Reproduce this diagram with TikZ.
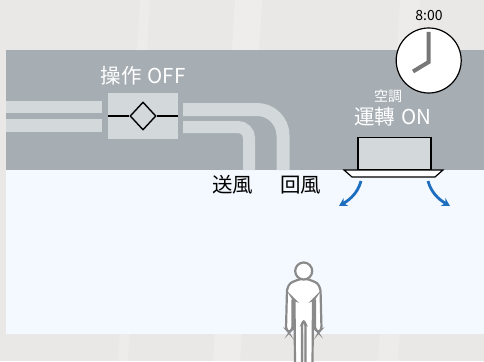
\documentclass[tikz,border=0pt]{standalone}
\usepackage{fontspec}
\newfontfamily\jp{Noto Sans CJK JP}
\usetikzlibrary{arrows.meta,shapes.geometric}
\definecolor{wallbg}{HTML}{E9E8E6}
\definecolor{ceiling}{HTML}{A6ADB3}
\definecolor{roomair}{HTML}{F3F9FE}
\definecolor{ductgray}{HTML}{D3D8DB}
\definecolor{flowblue}{HTML}{1E6EBF}
\definecolor{figgray}{HTML}{8A8A8A}
\definecolor{handgray}{HTML}{777777}
\tikzset{
  lbl/.style={inner sep=0pt, font=\jp\fontsize{20.5}{20.5}\selectfont},
  whitelbl/.style={lbl, text=white},
  blacklbl/.style={lbl, text=black},
  duct/.style={draw=ductgray, line cap=butt},
  flow/.style={draw=flowblue, line width=2.8pt, -{Stealth[length=8pt,width=9pt]}},
  hand/.style={draw=handgray, line width=4pt, line cap=butt, line join=miter},
}
\begin{document}
\begin{tikzpicture}[x=1pt,y=-1pt]
\useasboundingbox (0,0) rectangle (484,361);
% backdrop with faint slanted sheen
\fill[wallbg] (0,0) rectangle (484,361);
\fill[white,opacity=0.25] (235,0) -- (262,0) -- (240,361) -- (213,361) -- cycle;
\fill[white,opacity=0.2] (140,0) -- (150,0) -- (128,361) -- (118,361) -- cycle;
\fill[white,opacity=0.2] (400,0) -- (420,0) -- (398,361) -- (378,361) -- cycle;
% ceiling void and room
\fill[ceiling] (6,50) rectangle (484,170);
\fill[roomair] (6,170) rectangle (484,334);
% ducts
\draw[duct, line width=12pt] (6,107) -- (102,107);
\draw[duct, line width=13pt] (6,125.5) -- (102,125.5);
\draw[duct, line width=13pt, rounded corners=26pt] (183,109.5) -| (283,170);
\draw[duct, line width=12pt, rounded corners=11pt] (183,127) -| (249,170);
% heat exchanger unit
\node[fill=ductgray, minimum width=70pt, minimum height=46pt, inner sep=0pt] (erv) at (143,116) {};
\node[draw=black, line width=1.4pt, diamond, fill=ductgray, minimum width=26pt, minimum height=28pt, inner sep=0pt] (core) at (143,116) {};
\draw[black, line width=1.4pt] (erv.west) -- (core.west);
\draw[black, line width=1.4pt] (core.east) -- (erv.east);
% labels
\node[whitelbl] (erv-state) at (143,75.5) {操作\hspace{6pt}OFF};
\node[whitelbl, font=\jp\fontsize{14}{14}\selectfont] (ac-name) at (388,96) {空調};
\node[whitelbl] (ac-state) at (393,117) {運轉\hspace{6pt}ON};
\node[blacklbl] (supply) at (232.5,185) {送風};
\node[blacklbl] (return) at (300.5,185) {回風};
% cassette air conditioner
\node[draw=black, fill=ductgray, line width=1.2pt, minimum width=73pt, minimum height=32pt, inner sep=0pt, anchor=south] (ac) at (394.5,170) {};
\draw[black, fill=white, line width=1.2pt] (344,170) -- (443,170) -- (435,177) -- (352,177) -- cycle;
\coordinate (outl) at (361,181);
\coordinate (outr) at (428,181);
\coordinate (tipl) at (339,206);
\coordinate (tipr) at (450,206);
\draw[flow] (outl) .. controls (358,192) and (351,199) .. (tipl);
\draw[flow] (outr) .. controls (431,192) and (438,199) .. (tipr);
% clock
\node[inner sep=0pt, font=\jp\fontsize{14}{14}\selectfont] (time) at (429,16) {8:00};
\node[circle, draw=black, fill=white, line width=1.2pt, minimum size=65pt, inner sep=0pt] (clock) at (428.7,60.5) {};
\draw[hand] (428.7,32) -- (428.7,62) -- (413,71.5);
% occupant
\draw[figgray, fill=white, line width=2.2pt, rounded corners=2.5pt]
  (300,279) -- (290,283) -- (287,289) -- (286,329) -- (289,332.5) -- (292.5,329)
  -- (292.5,298) -- (294.5,300) -- (295,365) -- (302,365) -- (302,324) -- (303.7,320)
  -- (305.5,324) -- (305.5,365) -- (312.5,365) -- (313,300) -- (315,298) -- (315,329)
  -- (318.5,332.5) -- (321.5,329) -- (320.5,289) -- (317.5,283) -- (307.5,279) -- cycle;
\node[circle, draw=figgray, fill=white, line width=2.2pt, minimum size=17pt, inner sep=0pt] (head) at (303.7,271) {};
\end{tikzpicture}
\end{document}
